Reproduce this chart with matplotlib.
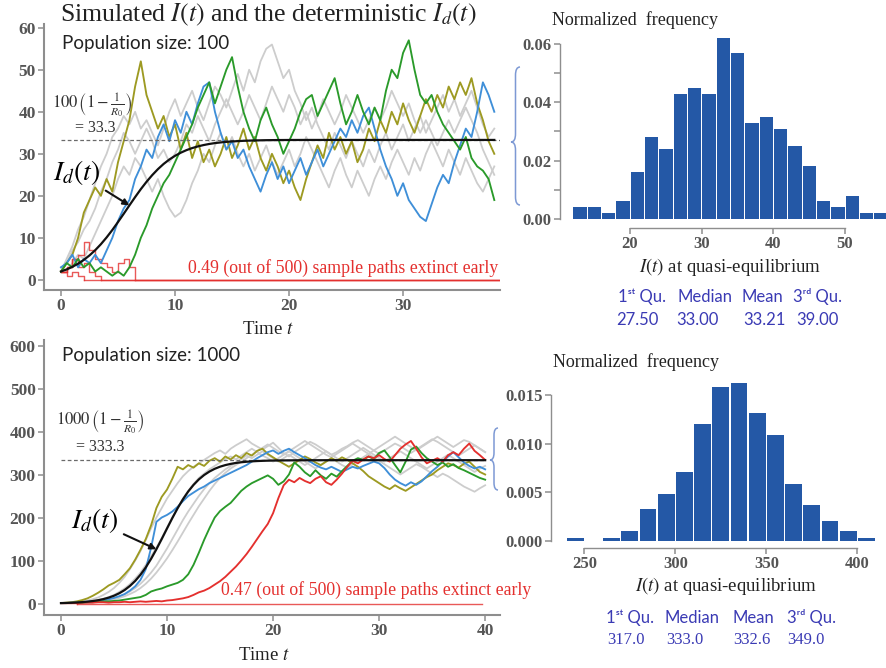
import numpy as np
import matplotlib
matplotlib.use("Agg")
import matplotlib.pyplot as plt
from matplotlib.path import Path
from matplotlib.patches import PathPatch

plt.rcParams['mathtext.fontset'] = 'stix'

# ---------------- data ----------------
dt = 0.5
R0 = 1.5
pop_sizes = [100, 1000]
equilibria = [33.3, 333.3]
extinct_share = [0.49, 0.47]
n_paths = 500

# population 100: sample paths (one value every dt)
p100_olive = [2, 4, 6, 10, 16, 19, 22, 20, 24, 21,
              28, 33, 38, 46, 52, 44, 40, 36, 39, 34,
              37, 31, 35, 29, 33, 28, 31, 27, 30, 34,
              29, 32, 36, 31, 34, 29, 26, 30, 27, 23,
              26, 22, 19, 24, 28, 32, 29, 35, 31, 34,
              30, 33, 28, 31, 36, 33, 38, 35, 40, 37,
              42, 38, 35, 39, 43, 40, 44, 41, 46, 43,
              47, 44, 48, 42, 38, 33, 30]
p100_blue = [3, 4, 6, 3, 5, 4, 6, 4, 7, 10,
             14, 17, 19, 24, 27, 31, 29, 34, 37, 33,
             38, 35, 40, 37, 42, 46, 47, 40, 35, 31,
             33, 29, 31, 27, 24, 21, 25, 28, 24, 27,
             23, 26, 29, 25, 28, 31, 27, 30, 33, 36,
             34, 38, 35, 39, 41, 36, 31, 27, 24, 20,
             23, 19, 17, 15, 14, 18, 22, 25, 23, 28,
             32, 36, 34, 40, 47, 44, 40]
p100_green = [2, 4, 3, 5, 3, 4, 2, 3, 2, 1,
              2, 1, 3, 6, 10, 13, 17, 20, 23, 25,
              28, 31, 34, 37, 41, 44, 47, 42, 46, 50,
              53, 46, 40, 36, 33, 38, 41, 37, 34, 30,
              33, 36, 40, 43, 44, 39, 42, 45, 48, 42,
              37, 40, 44, 40, 37, 41, 38, 45, 50, 48,
              54, 57, 50, 44, 42, 44, 40, 37, 35, 33,
              31, 34, 29, 27, 26, 24, 19]
p100_gray1 = [2, 5, 8, 12, 15, 19, 23, 27, 30, 34,
              36, 39, 37, 40, 36, 38, 35, 32, 36, 40,
              43, 39, 42, 45, 41, 38, 42, 46, 44, 41,
              45, 49, 45, 50, 47, 52, 55, 56, 52, 48,
              50, 45, 42, 38, 41, 37, 34, 31, 35, 32,
              29, 33, 30, 27, 31, 28, 32, 35, 31, 34,
              37, 33, 36, 39, 35, 38, 41, 44, 40, 43,
              39, 42, 45, 41, 37, 34, 36]
p100_gray2 = [3, 2, 4, 6, 5, 8, 11, 14, 17, 20,
              24, 27, 25, 29, 27, 24, 21, 24, 20, 17,
              15, 16, 19, 23, 26, 30, 28, 32, 35, 31,
              34, 30, 27, 30, 26, 29, 32, 28, 25, 28,
              31, 27, 30, 34, 31, 28, 25, 22, 26, 29,
              25, 22, 26, 23, 20, 24, 27, 24, 28, 31,
              28, 25, 29, 26, 30, 33, 30, 27, 31, 28,
              25, 29, 26, 23, 21, 24, 27]
p100_gray3 = [2, 4, 7, 9, 12, 14, 17, 21, 24, 28,
              31, 35, 33, 30, 33, 36, 33, 29, 31, 28,
              30, 33, 37, 35, 39, 36, 33, 37, 40, 43,
              40, 37, 40, 44, 41, 38, 42, 46, 43, 40,
              44, 41, 37, 40, 36, 39, 43, 40, 37, 40,
              44, 41, 38, 35, 38, 41, 38, 41, 45, 42,
              39, 42, 38, 35, 38, 35, 32, 35, 38, 35,
              38, 41, 38, 35, 31, 28, 25]
p100_extinct = [[2, 3, 5, 3, 4, 2, 1, 0],
                [2, 3, 5, 6, 9, 7, 5, 4, 3, 2, 4, 5, 3, 0],
                [2, 1, 2, 1, 0]]
p100_end = 38.5

# population 100: deterministic curve
id100_t = [0, 0.5, 1, 1.5, 2, 2.5, 3, 3.5, 4, 4.5, 5, 5.5, 6, 6.5, 7, 7.5,
           8, 8.5, 9, 9.5, 10, 10.5, 11, 11.5, 12, 12.5, 13, 13.5, 14, 14.5,
           15, 16, 17, 18, 19, 20, 22, 24, 26, 28, 30, 32, 34, 36, 38]
id100_v = [2.0, 2.5, 3.12, 3.86, 4.76, 5.83, 7.07, 8.50, 10.11, 11.87, 13.77,
           15.73, 17.73, 19.70, 21.59, 23.34, 24.93, 26.35, 27.59, 28.64, 29.52,
           30.26, 30.87, 31.36, 31.76, 32.08, 32.34, 32.55, 32.71, 32.84, 32.94,
           33.09, 33.18, 33.24, 33.27, 33.29, 33.3, 33.3, 33.3, 33.3, 33.3,
           33.3, 33.3, 33.3, 33.3]

# population 1000: sample paths
p1000_olive = [1, 2, 3, 5, 8, 12, 18, 25, 33, 42,
               48, 55, 68, 82, 102, 125, 150, 182, 222, 248,
               265, 290, 318, 312, 322, 316, 326, 320, 332, 338,
               330, 342, 335, 345, 338, 350, 344, 355, 360, 348,
               340, 332, 325, 318, 326, 334, 342, 336, 328, 322,
               330, 338, 332, 340, 334, 326, 318, 308, 296, 288,
               280, 272, 266, 275, 268, 262, 270, 278, 286, 294,
               300, 310, 318, 326, 322, 316, 325, 330, 318, 306,
               300]
p1000_blue = [1, 1, 2, 2, 3, 4, 5, 6, 8, 10,
              13, 17, 22, 30, 40, 55, 80, 130, 190, 200,
              206, 214, 225, 238, 250, 258, 266, 272, 280, 286,
              292, 298, 304, 310, 316, 322, 330, 338, 345, 352,
              356, 348, 355, 360, 352, 345, 338, 330, 322, 316,
              312, 318, 312, 306, 312, 318, 314, 320, 325, 330,
              326, 315, 300, 288, 280, 274, 282, 276, 284, 296,
              308, 318, 330, 342, 352, 340, 328, 320, 314, 318,
              312]
p1000_green = [1, 1, 1, 2, 2, 3, 3, 4, 5, 5,
               6, 7, 9, 11, 13, 15, 20, 28, 32, 35,
               40, 44, 48, 55, 68, 90, 118, 148, 175, 200,
               215, 225, 234, 248, 262, 272, 280, 286, 292, 298,
               290, 276, 284, 300, 328, 318, 305, 296, 310, 298,
               290, 302, 295, 308, 320, 332, 338, 334, 342, 336,
               350, 356, 340, 322, 305, 330, 358, 365, 350, 338,
               330, 322, 328, 318, 324, 315, 310, 304, 298, 292,
               288]
p1000_red = [1, 1, 1, 1, 2, 2, 2, 3, 3, 2,
             3, 3, 4, 3, 4, 5, 4, 5, 6, 5,
             7, 8, 10, 12, 15, 20, 26, 30, 36, 44,
             52, 62, 74, 86, 100, 115, 132, 150, 168, 185,
             210, 245, 275, 288, 282, 292, 285, 280, 290, 296,
             282, 276, 288, 302, 318, 332, 326, 335, 342, 338,
             345, 336, 330, 345, 360, 370, 378, 360, 340, 326,
             332, 338, 330, 345, 352, 345, 360, 372, 355, 345,
             334]
p1000_gray1 = [1, 1, 2, 3, 5, 7, 10, 14, 20, 27,
               36, 48, 62, 80, 100, 122, 148, 175, 200, 222,
               244, 262, 280, 296, 308, 318, 326, 334, 342, 350,
               356, 348, 360, 368, 375, 382, 372, 365, 358, 366,
               374, 362, 350, 342, 352, 360, 368, 376, 370, 362,
               354, 346, 352, 360, 366, 374, 380, 372, 364, 356,
               348, 356, 364, 372, 366, 358, 350, 358, 366, 374,
               382, 376, 368, 360, 352, 344, 352, 360, 368, 360,
               352]
p1000_gray2 = [1, 1, 2, 2, 3, 4, 6, 8, 11, 15,
               20, 27, 35, 45, 58, 72, 90, 110, 130, 152,
               176, 200, 222, 244, 262, 278, 292, 302, 312, 320,
               328, 336, 342, 335, 344, 352, 360, 352, 344, 338,
               330, 338, 346, 354, 346, 338, 330, 322, 314, 322,
               330, 338, 330, 322, 316, 324, 332, 340, 348, 340,
               332, 324, 316, 308, 300, 308, 316, 324, 318, 310,
               302, 294, 302, 296, 288, 280, 272, 266, 260, 268,
               275]
p1000_gray3 = [1, 1, 1, 2, 2, 3, 4, 5, 6, 8,
               10, 13, 17, 22, 28, 36, 46, 58, 72, 88,
               105, 124, 144, 165, 186, 206, 226, 244, 262, 278,
               292, 304, 314, 322, 330, 338, 346, 354, 362, 370,
               362, 354, 346, 354, 362, 370, 378, 370, 362, 354,
               346, 340, 348, 356, 364, 372, 364, 356, 348, 356,
               364, 372, 380, 388, 380, 372, 364, 356, 364, 372,
               380, 388, 380, 372, 364, 372, 380, 376, 368, 360,
               352]
p1000_gray4 = [1, 1, 1, 2, 2, 3, 4, 5, 7, 9,
               12, 16, 21, 28, 36, 46, 58, 72, 88, 108,
               128, 150, 172, 194, 214, 232, 250, 266, 280, 292,
               302, 312, 320, 328, 336, 344, 338, 346, 354, 346,
               338, 330, 338, 346, 338, 330, 322, 330, 338, 346,
               354, 346, 338, 330, 338, 346, 354, 362, 354, 346,
               338, 330, 338, 346, 354, 346, 338, 330, 322, 314,
               322, 330, 338, 346, 338, 330, 322, 314, 306, 314,
               320]
p1000_extinct = [[1, 2, 1, 0]]
p1000_end = 39.7

id1000_t = [0, 0.5, 1, 1.5, 2, 2.5, 3, 3.5, 4, 4.5, 5, 5.5, 6, 6.5, 7, 7.5,
            8, 8.5, 9, 9.5, 10, 10.5, 11, 11.5, 12, 12.5, 13, 13.5, 14, 14.5,
            15, 15.5, 16, 16.5, 17, 17.5, 18, 18.5, 19, 19.5, 20, 21, 22, 23,
            24, 26, 28, 30, 32, 34, 36, 38, 40]
id1000_v = [1.0, 1.34, 1.80, 2.41, 3.23, 4.33, 5.79, 7.73, 10.3, 13.7, 18.1,
            23.9, 31.3, 40.8, 52.5, 67.0, 84.1, 104.0, 126.2, 149.9, 174.5,
            198.7, 221.6, 242.3, 260.5, 275.8, 288.6, 298.8, 306.9, 313.3,
            318.2, 321.9, 324.7, 326.9, 328.5, 329.7, 330.6, 331.3, 331.8,
            332.2, 332.5, 332.8, 333.0, 333.2, 333.2, 333.3, 333.3, 333.3,
            333.3, 333.3, 333.3, 333.3, 333.3]

# quasi-equilibrium histograms (normalized frequency)
h100_left = [12, 14, 16, 18, 20, 22, 24, 26, 28, 30, 32, 34, 36, 38, 40,
             42, 44, 46, 48, 50, 52, 54]
h100_dens = [0.004, 0.004, 0.002, 0.006, 0.016, 0.028, 0.024, 0.043, 0.045,
             0.043, 0.062, 0.057, 0.033, 0.035, 0.031, 0.025, 0.018, 0.006,
             0.004, 0.008, 0.002, 0.002]
h100_bw = 2
h1000_left = [240, 250, 260, 270, 280, 290, 300, 310, 320, 330, 340, 350,
              360, 370, 380, 390, 400]
h1000_dens = [0.0003, 0, 0.0003, 0.001, 0.0033, 0.0048, 0.0071, 0.012, 0.0158,
              0.0162, 0.0132, 0.0109, 0.0059, 0.0037, 0.0021, 0.001, 0.0003]
h1000_bw = 10

stat_names = ["1ˢᵗ Qu.", "Median", "Mean", "3ʳᵈ Qu."]
stats100 = ["27.50", "33.00", "33.21", "39.00"]
stats1000 = ["317.0", "333.0", "332.6", "349.0"]

# ---------------- styling ----------------
W, H = 887, 668
fig = plt.figure(figsize=(W / 100, H / 100), dpi=100)

C_OLIVE = '#9d9a22'
C_BLUE = '#3f8fd8'
C_GREEN = '#2a9a2a'
C_RED = '#e4302e'
C_GRAY = '#cdcdcd'
C_BAR = '#2458a6'
C_AXIS = '#8e8e8e'
C_TICK = '#555555'
C_STAT = '#3a3ab4'
C_BRACE = '#7d99d4'
SERIF = ['Liberation Serif', 'DejaVu Serif']
SANS = ['Lato', 'DejaVu Sans']


def fx(px):
    return px / W


def fy(py):
    return 1 - py / H


def add_px_axes(left, top, right, bottom):
    return fig.add_axes([fx(left), fy(bottom), (right - left) / W, (bottom - top) / H])


def style_axes(ax, tick_size=12.5):
    for s in ('top', 'right'):
        ax.spines[s].set_visible(False)
    for s in ('left', 'bottom'):
        ax.spines[s].set_color(C_AXIS)
        ax.spines[s].set_linewidth(1.5)
    ax.tick_params(color=C_AXIS, labelcolor=C_TICK, length=4, width=1.1, pad=2)
    for lab in ax.get_xticklabels() + ax.get_yticklabels():
        lab.set_fontfamily(SERIF)
        lab.set_fontweight('bold')
        lab.set_fontsize(tick_size)


def steps(vals):
    v = np.asarray(vals, dtype=float)
    return np.arange(len(v)) * dt, v


def draw_paths(ax, grays, colored, extinct, t_end):
    for g in grays:
        t, v = steps(g)
        ax.plot(t, v, color=C_GRAY, lw=1.3, zorder=2)
    for path in extinct:
        t, v = steps(path)
        ax.plot(t, v, color=C_RED, lw=1.0, alpha=0.8, drawstyle='steps-post', zorder=3)
        ax.plot([t[-1], t_end], [v[-1], v[-1]], color=C_RED, lw=1.0, alpha=0.8, zorder=3)
    for vals, col in colored:
        t, v = steps(vals)
        ax.plot(t, v, color=col, lw=1.35, zorder=4)


def brace(x_right, y_top, y_bot, y_tip, width):
    xr, xl = x_right, x_right - width
    xm = (xr + xl) / 2
    d = width * 0.9
    verts = [(xr, y_top), (xm, y_top), (xm, y_top + d),
             (xm, y_tip - d),
             (xm, y_tip), (xl, y_tip),
             (xm, y_tip), (xm, y_tip + d),
             (xm, y_bot - d),
             (xm, y_bot), (xr, y_bot)]
    verts = [(fx(a), fy(b)) for a, b in verts]
    codes = [Path.MOVETO, Path.CURVE3, Path.CURVE3, Path.LINETO,
             Path.CURVE3, Path.CURVE3, Path.CURVE3, Path.CURVE3,
             Path.LINETO, Path.CURVE3, Path.CURVE3]
    fig.patches.append(PathPatch(Path(verts, codes), transform=fig.transFigure,
                                 fill=False, edgecolor=C_BRACE, lw=1.1))


def histogram(ax, left, dens, bw, xticks, yticks, ylabels, ylim, xlim, xb):
    gap = bw * 0.035
    ax.bar(np.asarray(left) + gap, dens, width=bw - 2 * gap, align='edge',
           color=C_BAR, edgecolor='none', zorder=2)
    ax.set_xlim(*xlim)
    ax.set_ylim(*ylim)
    ax.set_xticks(xticks)
    ax.set_yticks(yticks)
    ax.set_yticklabels(ylabels)
    ax.spines['left'].set_bounds(yticks[0], yticks[-1])
    ax.spines['bottom'].set_bounds(xticks[0], xticks[-1])
    ax.spines['bottom'].set_position(('outward', xb))
    style_axes(ax, tick_size=12)
    ax.spines['left'].set_linewidth(1.0)
    ax.spines['bottom'].set_linewidth(1.0)


# ---------------- population 100 ----------------
ax1 = add_px_axes(44, 23.5, 500, 290)
ax1.set_xlim(-1.49, 38.5)
ax1.set_ylim(-2.4, 61)
draw_paths(ax1, [p100_gray1, p100_gray2, p100_gray3],
           [(p100_olive, C_OLIVE), (p100_blue, C_BLUE), (p100_green, C_GREEN)],
           p100_extinct, p100_end)
ax1.plot([0, p100_end], [equilibria[0]] * 2, color='#6a6a6a', lw=0.9,
         dashes=(3, 2), zorder=5)
ax1.plot(id100_t, id100_v, color='#111111', lw=1.6, zorder=6)
ax1.set_xticks([0, 10, 20, 30])
ax1.set_yticks([0, 10, 20, 30, 40, 50, 60])
style_axes(ax1)
ax1.annotate('$I_d(t)$', xy=(id100_t[12], id100_v[12]), xytext=(1.4, 25.5),
             fontsize=20, ha='center', va='center', zorder=7,
             arrowprops=dict(arrowstyle='-|>', color='#111111', lw=1.5,
                             shrinkA=2, shrinkB=0, mutation_scale=9))

# ---------------- population 1000 ----------------
ax2 = add_px_axes(44, 340, 500, 615)
ax2.set_xlim(-1.6, 41.4)
ax2.set_ylim(-26.7, 612.8)
draw_paths(ax2, [p1000_gray1, p1000_gray2, p1000_gray3, p1000_gray4],
           [(p1000_olive, C_OLIVE), (p1000_blue, C_BLUE), (p1000_green, C_GREEN),
            (p1000_red, C_RED)],
           p1000_extinct, p1000_end)
ax2.plot([0, id1000_t[-1]], [equilibria[1]] * 2, color='#6a6a6a', lw=0.9,
         dashes=(3, 2), zorder=5)
ax2.plot(id1000_t, id1000_v, color='#111111', lw=1.6, zorder=6)
ax2.set_xticks([0, 10, 20, 30, 40])
ax2.set_yticks([0, 100, 200, 300, 400, 500, 600])
style_axes(ax2)
ax2.annotate('$I_d(t)$', xy=(id1000_t[18], id1000_v[18]), xytext=(3.2, 192),
             fontsize=20, ha='center', va='center', zorder=7,
             arrowprops=dict(arrowstyle='-|>', color='#111111', lw=1.5,
                             shrinkA=2, shrinkB=0, mutation_scale=9))

# ---------------- histograms ----------------
hx1 = add_px_axes(560, 32.3, 887, 219)
histogram(hx1, h100_left, h100_dens, h100_bw, [20, 30, 40, 50],
          [0, 0.01, 0.02, 0.03, 0.04, 0.05, 0.06],
          ['0.00', '', '0.02', '', '0.04', '', '0.06'],
          (0, 0.064), (10.23, 55.86), 6.3)

hx2 = add_px_axes(551, 377.5, 887, 541)
histogram(hx2, h1000_left, h1000_dens, h1000_bw, [250, 300, 350, 400],
          [0, 0.005, 0.010, 0.015], ['0.000', '0.005', '0.010', '0.015'],
          (0, 0.0168), (231.7, 416.3), 5.0)

# ---------------- figure text ----------------
def ftext(px, py, s, **kw):
    fig.text(fx(px), fy(py), s, **kw)


ftext(60, 15, 'Simulated $I(t)$ and the deterministic $I_d(t)$',
      fontsize=18.5, family=SERIF, color='#222222', va='center', ha='left')
ftext(62, 44, f'Population size: {pop_sizes[0]}', fontsize=13.5, family=SANS,
      color='#222222', va='center')
ftext(62, 355, f'Population size: {pop_sizes[1]}', fontsize=13.5, family=SANS,
      color='#222222', va='center')

ftext(92, 106, rf'${pop_sizes[0]}\,\left(1-\frac{{1}}{{R_0}}\right)$', fontsize=12,
      color='#333333', ha='center', va='center')
ftext(95, 128, f'= {equilibria[0]}', fontsize=11.5, family=SERIF, color='#333333',
      ha='center', va='center')
ftext(100, 423, rf'${pop_sizes[1]}\,\left(1-\frac{{1}}{{R_0}}\right)$', fontsize=12,
      color='#333333', ha='center', va='center')
ftext(100, 447, f'= {equilibria[1]}', fontsize=11.5, family=SERIF, color='#333333',
      ha='center', va='center')

ftext(498, 268, f'{extinct_share[0]} (out of {n_paths}) sample paths extinct early',
      fontsize=12.8, family=SERIF, color=C_RED, ha='right', va='center')
ftext(221, 590, f'{extinct_share[1]} (out of {n_paths}) sample paths extinct early',
      fontsize=12.8, family=SERIF, color=C_RED, ha='left', va='center')

ftext(268, 329, 'Time $t$', fontsize=13.5, family=SERIF, color='#222222',
      ha='center', va='center')
ftext(264, 655, 'Time $t$', fontsize=13.5, family=SERIF, color='#222222',
      ha='center', va='center')

ftext(552, 20, 'Normalized  frequency', fontsize=13, family=SERIF, color='#222222',
      ha='left', va='center')
ftext(553, 362, 'Normalized  frequency', fontsize=13, family=SERIF, color='#222222',
      ha='left', va='center')
ftext(730, 267, r'$\mathit{I(t)}$ at quasi-equilibrium', fontsize=13.5, family=SERIF,
      color='#222222', ha='center', va='center')
ftext(726, 586, r'$\mathit{I(t)}$ at quasi-equilibrium', fontsize=13.5, family=SERIF,
      color='#222222', ha='center', va='center')

for name, val, xn, xv in zip(stat_names, stats100, [642, 705, 762, 818],
                             [637, 697, 764, 817]):
    ftext(xn, 297, name, fontsize=12, family=SANS, color=C_STAT, ha='center', va='center')
    ftext(xv, 320, val, fontsize=12, family=SANS, color=C_STAT, ha='center', va='center')
for name, val, xn, xv in zip(stat_names, stats1000, [630, 692, 753, 812],
                             [626, 685, 752, 806]):
    ftext(xn, 618, name, fontsize=12, family=SANS, color=C_STAT, ha='center', va='center')
    ftext(xv, 640, val, fontsize=12, family=SERIF, color=C_STAT, ha='center', va='center')

brace(520, 67, 205, 142, 9)
brace(498, 428, 490, 460, 8)

fig.savefig('out.png', dpi=100)
